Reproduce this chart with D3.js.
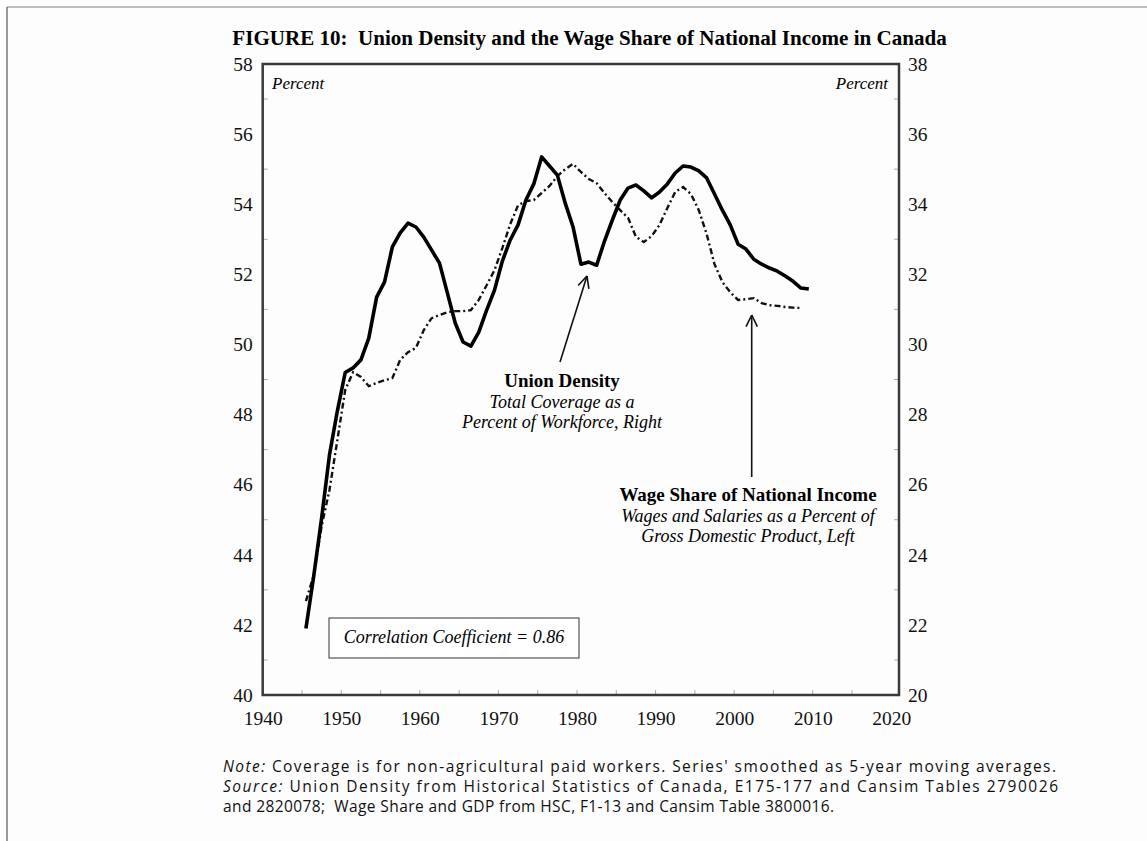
<!DOCTYPE html>
<html>
<head>
<meta charset="utf-8">
<script src="https://cdn.jsdelivr.net/npm/d3@7"></script>
<style>
  body { margin: 0; background: #fdfdfd; }
  svg { display: block; }
  text { white-space: pre; }
</style>
</head>
<body>
<div id="chart"></div>
<script>
// years 1945-2009 (union density) and 1945-2008 (wage share), 5-year moving averages
const startYear = 1945;
const unionDensity = [21.9, 23.4, 25.05, 26.85, 28.1, 29.2, 29.33, 29.56, 30.18, 31.35,
    31.78, 32.78, 33.18, 33.46, 33.35, 33.06, 32.69, 32.32, 31.47, 30.61,
    30.07, 29.95, 30.35, 30.98, 31.55, 32.38, 32.98, 33.41, 34.12, 34.58,
    35.35, 35.09, 34.83, 34.03, 33.35, 32.29, 32.35, 32.26, 32.95, 33.55,
    34.12, 34.46, 34.55, 34.38, 34.18, 34.35, 34.58, 34.89, 35.09, 35.06,
    34.95, 34.75, 34.29, 33.83, 33.41, 32.86, 32.72, 32.43, 32.29, 32.18,
    32.09, 31.95, 31.80, 31.61, 31.58];
const wageShare = [42.68, 43.42, 44.82, 45.85, 47.27, 48.7, 49.21, 49.07, 48.81, 48.90,
    48.98, 49.04, 49.56, 49.78, 49.90, 50.41, 50.75, 50.84, 50.92, 50.95,
    50.95, 50.98, 51.27, 51.69, 52.12, 52.75, 53.43, 53.97, 54.09, 54.12,
    54.32, 54.52, 54.80, 55.00, 55.15, 54.92, 54.72, 54.60, 54.32, 54.06,
    53.83, 53.61, 53.07, 52.92, 53.09, 53.41, 53.89, 54.35, 54.49, 54.29,
    53.83, 53.15, 52.29, 51.78, 51.49, 51.27, 51.29, 51.32, 51.18, 51.12,
    51.10, 51.07, 51.05, 51.04];
const yearTicks = [1940, 1950, 1960, 1970, 1980, 1990, 2000, 2010, 2020];
const leftTicks = [40, 42, 44, 46, 48, 50, 52, 54, 56, 58];
const rightTicks = [20, 22, 24, 26, 28, 30, 32, 34, 36, 38];
const footLines = [
    ["Note:", " Coverage is for non-agricultural paid workers. Series' smoothed as 5-year moving averages."],
    ["Source:", " Union Density from Historical Statistics of Canada, E175-177 and Cansim Tables 2790026"],
    ["", "and 2820078;  Wage Share and GDP from HSC, F1-13 and Cansim Table 3800016."]
];
const footWidths = [833, 835, 611];

const width = 1147, height = 841;
const serif = "'Liberation Serif', 'Times New Roman', serif";
const frame = {left: 262.7, right: 899, top: 64, bottom: 695};

let svg = d3.select("#chart")
    .append("svg")
    .attr("width", width)
    .attr("height", height);

// page border
svg.append("line").attr("x1", 7).attr("x2", width).attr("y1", 7).attr("y2", 7)
    .attr("stroke", "#a8a8a8").attr("stroke-width", 1.5);
svg.append("line").attr("x1", 7).attr("x2", 7).attr("y1", 7).attr("y2", height)
    .attr("stroke", "#777").attr("stroke-width", 1.5);

let x = d3.scaleLinear().domain([1940, 2020]).range([frame.left, 891.3]);
let yL = d3.scaleLinear().domain([40, 58]).range([frame.bottom, frame.top]);
let yR = d3.scaleLinear().domain([20, 38]).range([frame.bottom, frame.top]);

// title
let title = svg.append("text")
    .attr("x", 589.5)
    .attr("y", 45)
    .style("text-anchor", "middle")
    .style("font-family", serif)
    .style("font-weight", "bold")
    .style("font-size", "20px")
    .text("FIGURE 10:  Union Density and the Wage Share of National Income in Canada");
title.style("font-size", (20 * 715 / title.node().getComputedTextLength()) + "px");

// minor ticks (inside)
let minorL = d3.range(41, 58, 2);
svg.append("g").selectAll("line").data(minorL).enter().append("line")
    .attr("x1", frame.left).attr("x2", frame.left + 5)
    .attr("y1", d => yL(d)).attr("y2", d => yL(d))
    .attr("stroke", "#aaa").attr("stroke-width", 1);
svg.append("g").selectAll("line").data(minorL).enter().append("line")
    .attr("x1", frame.right).attr("x2", frame.right - 5)
    .attr("y1", d => yL(d)).attr("y2", d => yL(d))
    .attr("stroke", "#aaa").attr("stroke-width", 1);
svg.append("g").selectAll("line").data(d3.range(1945, 2020, 5)).enter().append("line")
    .attr("x1", d => x(d)).attr("x2", d => x(d))
    .attr("y1", frame.bottom).attr("y2", frame.bottom - 5)
    .attr("stroke", "#aaa").attr("stroke-width", 1);

// frame
svg.append("rect")
    .attr("x", frame.left).attr("y", frame.top)
    .attr("width", frame.right - frame.left).attr("height", frame.bottom - frame.top)
    .attr("fill", "none").attr("stroke", "#3a3a3a").attr("stroke-width", 2.5);

// axes
let axL = svg.append("g").attr("transform", `translate(${frame.left - 6}, 0)`)
    .call(d3.axisLeft(yL).tickValues(leftTicks).tickSize(0).tickPadding(4));
let axR = svg.append("g").attr("transform", `translate(${frame.right + 6}, 0)`)
    .call(d3.axisRight(yR).tickValues(rightTicks).tickSize(0).tickPadding(3));
let axB = svg.append("g").attr("transform", `translate(0, ${frame.bottom + 14})`)
    .call(d3.axisBottom(x).tickValues(yearTicks).tickFormat(d3.format("d")).tickSize(0).tickPadding(2));
[axL, axR, axB].forEach(a => {
    a.select(".domain").remove();
    a.selectAll("text").style("font-family", serif).style("font-size", "19.5px").attr("fill", "#111");
});

// Percent labels
svg.append("text").attr("x", 272).attr("y", 89)
    .style("font-family", serif).style("font-style", "italic").style("font-size", "17px")
    .text("Percent");
svg.append("text").attr("x", 888).attr("y", 89)
    .style("text-anchor", "end")
    .style("font-family", serif).style("font-style", "italic").style("font-size", "17px")
    .text("Percent");

// series
let udData = unionDensity.map((v, i) => ({year: startYear + i, value: v}));
let wsData = wageShare.map((v, i) => ({year: startYear + i, value: v}));

svg.append("path")
    .datum(wsData)
    .attr("fill", "none")
    .attr("stroke", "#111")
    .attr("stroke-width", 2.4)
    .attr("stroke-dasharray", "6,3,2,3")
    .attr("d", d3.line().x(d => x(d.year + 0.5)).y(d => yL(d.value)));

svg.append("path")
    .datum(udData)
    .attr("fill", "none")
    .attr("stroke", "#000")
    .attr("stroke-width", 3.6)
    .attr("stroke-linejoin", "round")
    .attr("d", d3.line().x(d => x(d.year + 0.5)).y(d => yR(d.value)));

// arrows
function arrow(x1, y1, x2, y2) {
    let g = svg.append("g").attr("stroke", "#111").attr("stroke-width", 1.6).attr("fill", "none");
    g.append("line").attr("x1", x1).attr("y1", y1).attr("x2", x2).attr("y2", y2);
    let ang = Math.atan2(y2 - y1, x2 - x1);
    [-0.45, 0.45].forEach(o => {
        g.append("line").attr("x1", x2).attr("y1", y2)
            .attr("x2", x2 - 13 * Math.cos(ang + o))
            .attr("y2", y2 - 13 * Math.sin(ang + o));
    });
}
arrow(560, 362, 587, 276);
arrow(751.7, 477, 751.7, 315);

// annotations
function label(cx, lines) {
    lines.forEach(l => {
        svg.append("text").attr("x", cx).attr("y", l.y)
            .style("text-anchor", "middle")
            .style("font-family", serif)
            .style("font-size", l.size + "px")
            .style("font-weight", l.bold ? "bold" : "normal")
            .style("font-style", l.bold ? "normal" : "italic")
            .text(l.text);
    });
}
label(562, [
    {text: "Union Density", y: 387, size: 19, bold: true},
    {text: "Total Coverage as a", y: 408, size: 18},
    {text: "Percent of Workforce, Right", y: 428, size: 18}
]);
label(748, [
    {text: "Wage Share of National Income", y: 501, size: 19, bold: true},
    {text: "Wages and Salaries as a Percent of", y: 522, size: 18},
    {text: "Gross Domestic Product, Left", y: 542, size: 18}
]);

// correlation box
svg.append("rect").attr("x", 329).attr("y", 618).attr("width", 250).attr("height", 40)
    .attr("fill", "#fff").attr("stroke", "#333").attr("stroke-width", 1);
svg.append("text").attr("x", 454).attr("y", 643)
    .style("text-anchor", "middle")
    .style("font-family", serif).style("font-style", "italic").style("font-size", "18px")
    .text("Correlation Coefficient = 0.86");

// footnote
let foot = svg.append("g")
    .style("font-family", "'Open Sans', Lato, sans-serif")
    .style("font-size", "15.5px")
    .attr("fill", "#111");
footLines.forEach((l, i) => {
    let t = foot.append("text").attr("x", 223).attr("y", 772 + i * 20)
        .attr("textLength", footWidths[i])
        .attr("lengthAdjust", "spacing");
    if (l[0]) t.append("tspan").style("font-style", "italic").text(l[0]);
    t.append("tspan").text(l[1]);
});
</script>
</body>
</html>
